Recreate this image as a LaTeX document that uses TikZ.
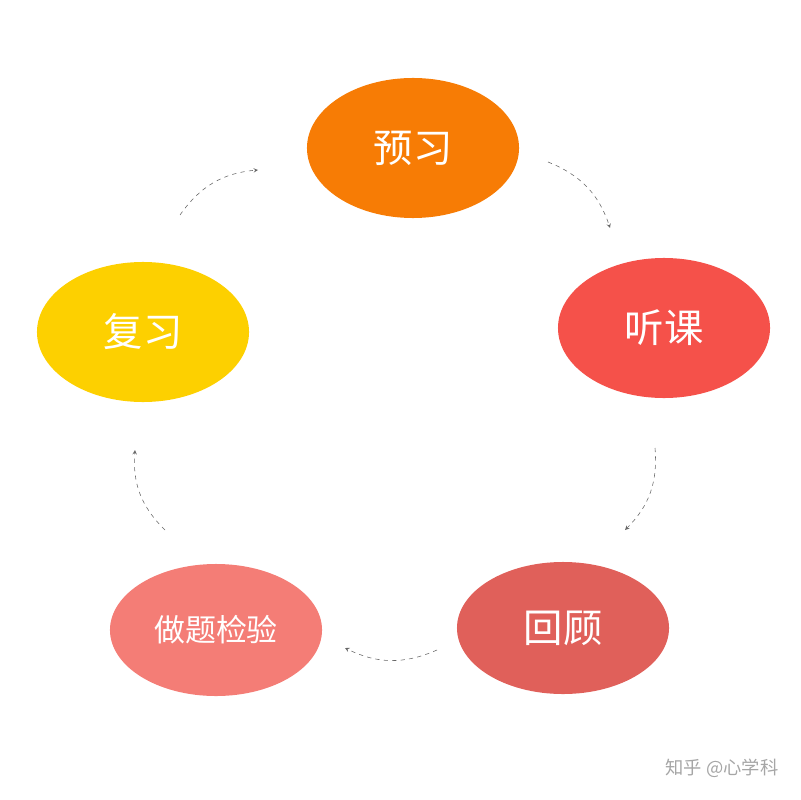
\documentclass[tikz,border=0pt]{standalone}
\usepackage{fontspec}
\setmainfont{Noto Sans CJK SC}
\usetikzlibrary{arrows,shapes.geometric}
\definecolor{preorange}{HTML}{F77C05}
\definecolor{classred}{HTML}{F5514A}
\definecolor{reviewred}{HTML}{E0605A}
\definecolor{testpink}{HTML}{F47D76}
\definecolor{reyellow}{HTML}{FDD000}
\tikzset{
  stage/.style={ellipse, minimum width=5.3cm, minimum height=3.5cm, text=white, font=\fontsize{28}{30}\selectfont},
  cycle/.style={->, >=stealth, draw=gray!80!black, dashed, thin}
}
\begin{document}
\begin{tikzpicture}[x=0.025cm, y=-0.025cm]
			\useasboundingbox (0,0) rectangle (800,800);
			\node[stage, fill=preorange] (pre) at (413,148) {预习};
			\node[stage, fill=classred] (class) at (664,328) {听课};
			\node[stage, fill=reviewred, minimum height=3.3cm] (back) at (563,628) {回顾};
			\node[stage, fill=testpink, minimum height=3.3cm, font=\fontsize{22}{24}\selectfont] (test) at (216,630) {做题检验};
			\node[stage, fill=reyellow] (re) at (143,332) {复习};
			\coordinate (a1) at (548,162); \coordinate (a2) at (610,228);
			\coordinate (b1) at (655,448); \coordinate (b2) at (625,530);
			\coordinate (c1) at (437,650); \coordinate (c2) at (345,648);
			\coordinate (d1) at (165,530); \coordinate (d2) at (135,450);
			\coordinate (e1) at (180,215); \coordinate (e2) at (258,170);
			\draw[cycle] (a1) to[bend left=25] (a2);
			\draw[cycle] (b1) to[bend left=25] (b2);
			\draw[cycle] (c1) to[bend left=25] (c2);
			\draw[cycle] (d1) to[bend left=25] (d2);
			\draw[cycle] (e1) to[bend left=25] (e2);
			\node[text=gray!70, font=\fontsize{13}{15}\selectfont] (mark) at (722,768) {知乎 @心学科};
		\end{tikzpicture}
\end{document}
